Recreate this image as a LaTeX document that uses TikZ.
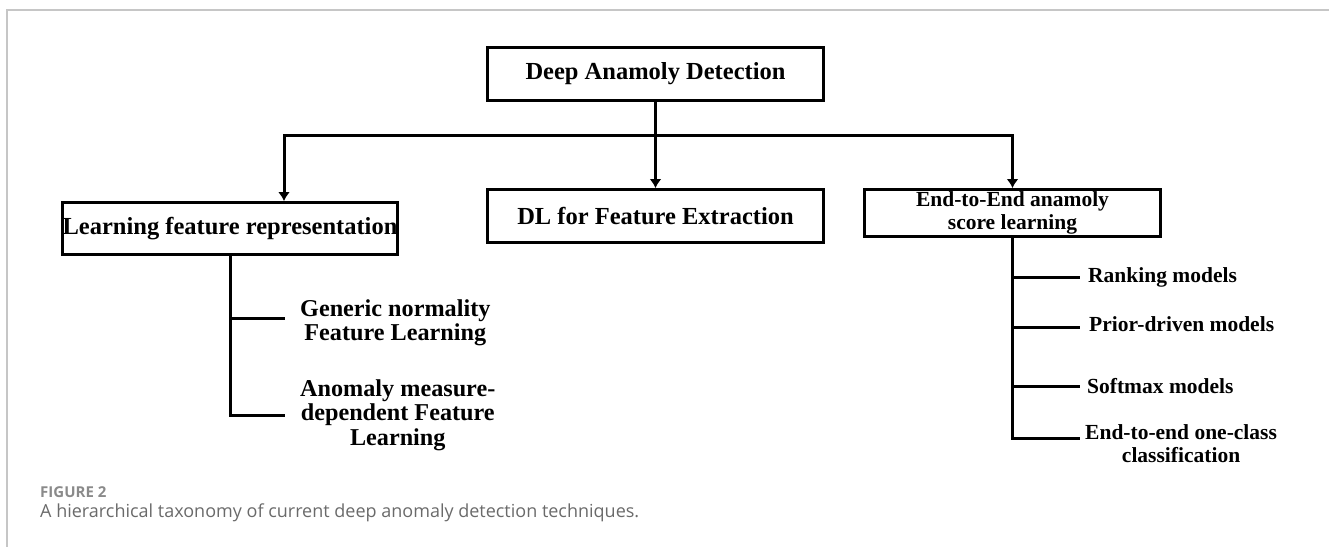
\documentclass[tikz,border=0pt]{standalone}
\usepackage{fontspec}
\setmainfont{Liberation Serif}
\newfontfamily\capfont{Open Sans}
\usetikzlibrary{arrows.meta,positioning,calc}
\definecolor{framegray}{HTML}{C6C6C6}
\definecolor{capgray}{HTML}{6A6A6A}
\definecolor{lblgray}{HTML}{8A8A8A}
\newcommand{\bigtxt}{\bfseries\fontsize{24.5}{25}\selectfont}
\newcommand{\leaftxt}{\bfseries\fontsize{24.2}{24.5}\selectfont}
\newcommand{\smalltxt}{\bfseries\fontsize{21.5}{23}\selectfont}

\begin{document}
\begin{tikzpicture}[x=1pt, y=-1pt,
    box/.style={draw, line width=3pt, inner sep=0pt, align=center},
    leaf/.style={inner sep=0pt, align=center},
    link/.style={line width=3pt},
    arr/.style={line width=3pt, -{Latex[length=9pt,width=12pt]}}]
  \useasboundingbox (0,0) rectangle (1329,547);
  \draw[framegray, line width=1.5pt] (1329,10) -- (7,10) -- (7,547);
  %nodes
  \node[box, minimum width=336pt, minimum height=53pt, font=\bigtxt] (dad) at (655.5,74) {Deep Anamoly Detection};
  \node[box, minimum width=336pt, minimum height=53pt, font=\bigtxt] (dl) at (655.5,216) {DL for Feature Extraction};
  \node[box, minimum width=335pt, minimum height=52pt, font=\bigtxt] (lrn) at (230,228.5) {Learning feature representation};
  \node[box, minimum width=296pt, minimum height=47pt, font=\smalltxt] (e2e) at (1012.5,213) {End-to-End anamoly\\score learning};
  \coordinate (split) at (dad.south |- 0,135);
  \coordinate (lft) at (284,135);
  \coordinate (gnTip) at (285,318);
  \coordinate (amTip) at (285,415);
  \coordinate (r1) at (1080,277);
  \coordinate (r2) at (1080,327);
  \coordinate (r3) at (1080,386);
  \coordinate (r4) at (1080,438);
  \node[leaf, font=\leaftxt, right=15pt of gnTip, yshift=-5pt] (gn) {Generic normality\\Feature Learning};
  \node[leaf, font=\leaftxt, right=15pt of amTip] (am) {Anomaly measure-\\dependent Feature\\Learning};
  \node[leaf, font=\smalltxt, right=8pt of r1] (rank) {Ranking models};
  \node[leaf, font=\smalltxt, right=9pt of r2, yshift=3pt] (prior) {Prior-driven models};
  \node[leaf, font=\smalltxt, right=7pt of r3] (soft) {Softmax models};
  \node[leaf, font=\smalltxt, right=5pt of r4, yshift=-6pt] (oc) {End-to-end one-class\\classification};
  %edges
  \draw[arr] (dad.south) -- (dl.north);
  \draw[arr] (split) -- (lft) -- (lft |- lrn.north);
  \draw[arr] (split) -| (e2e.north);
  \draw[link] (lrn.south) |- (amTip);
  \draw[link] (lrn.south |- gnTip) -- (gnTip);
  \draw[link] (e2e.south) |- (r4);
  \draw[link] (e2e.south |- r1) -- (r1);
  \draw[link] (e2e.south |- r2) -- (r2);
  \draw[link] (e2e.south |- r3) -- (r3);
  %caption
  \node[anchor=base west, inner sep=0pt, text=lblgray, font=\capfont\bfseries\fontsize{15}{17}\selectfont] (figno) at (40,497) {FIGURE 2};
  \node[anchor=base west, inner sep=0pt, text=capgray, font=\capfont\fontsize{18}{21}\selectfont] (figcap) at (40,517) {A hierarchical taxonomy of current deep anomaly detection techniques.};
\end{tikzpicture}
\end{document}
